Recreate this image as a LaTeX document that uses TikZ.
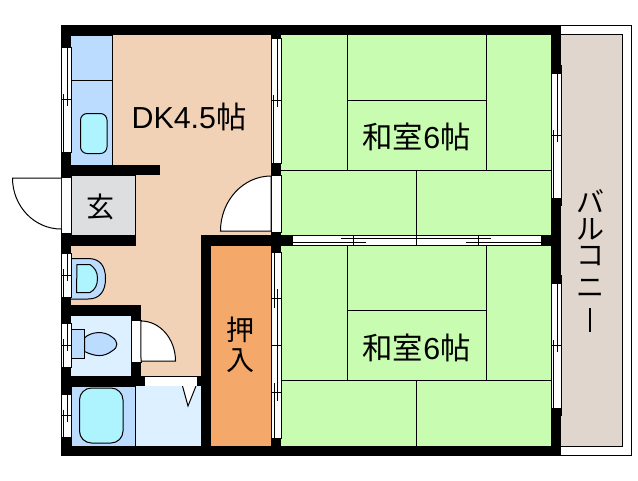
\documentclass[tikz,border=0pt]{standalone}
\usepackage{fontspec}
\setmainfont{Liberation Sans}
\newfontfamily\cjk{Noto Sans CJK JP}
\definecolor{dkcol}{HTML}{F2D2B6}
\definecolor{tatamicol}{HTML}{C8FCB0}
\definecolor{closetcol}{HTML}{F4A96B}
\definecolor{balconycol}{HTML}{E0D6CD}
\definecolor{genkancol}{HTML}{DCDEE0}
\definecolor{wetcol}{HTML}{BBDCFF}
\definecolor{palecol}{HTML}{DCF0FF}
\definecolor{watercol}{HTML}{AEF4FF}
\tikzset{
  ln/.style={line width=0.75pt},
  wall/.style={fill=black},
  opening/.style={ln,fill=white,draw=black},
  label/.style={inner sep=0pt,font=\fontsize{21}{21}\selectfont},
  roomlabel/.style={inner sep=0pt,font=\fontsize{22.8}{23}\selectfont},
}
% sliding window in a vertical wall: left x, top y, bottom y
\newcommand{\slidewin}[3]{
  \draw[opening] (#1,#2) rectangle (#1+10,#3);
  \draw[ln] (#1+6,#2) -- (#1+6,{(#2+#3)/2+6});
  \draw[ln] (#1+2,{(#2+#3)/2-6}) -- (#1+2,#3);
  \draw[ln] (#1,{(#2+#3)/2}) -- (#1+10,{(#2+#3)/2});
}
\begin{document}
\begin{tikzpicture}[x=0.75pt,y=-0.75pt]
\useasboundingbox (0,0) rectangle (638,480);
\fill[white] (0,0) rectangle (638,480);
% balcony
\draw[ln] (561,25.5) -- (631.5,25.5) -- (631.5,455.5) -- (561,455.5);
\draw[ln,fill=balconycol] (561,34.5) -- (622,34.5) -- (622,446.5) -- (561,446.5);
% floors
\fill[dkcol] (71,35) rectangle (271,446);
\fill[tatamicol] (281,35) rectangle (551,446);
\fill[closetcol] (211,246) rectangle (271,446);
\draw[ln,fill=wetcol] (71,35) -- (112.5,35) -- (112.5,165) -- (71,165);
\draw[ln] (71,80.5) -- (112.5,80.5);
\draw[ln,fill=watercol,rounded corners=5pt] (80.5,113.5) rectangle (107,153.5);
\draw[ln,fill=genkancol] (71,175) rectangle (135.5,235);
\fill[palecol] (71,316) rectangle (131,376);
\fill[palecol] (135.5,386) rectangle (201,446);
\draw[ln,fill=wetcol] (71,386) rectangle (135.5,446);
\draw[ln,fill=watercol,rounded corners=9pt] (79.5,388) rectangle (123,443);
\draw[ln,fill=white] (182.5,386) -- (188,406) -- (196,386);
% wash basin
\draw[ln,fill=wetcol] (71,258.5) -- (88,258.5) .. controls (100,258.5) and (105.5,266) .. (105.5,278.5) .. controls (105.5,291) and (100,299) .. (88,299) -- (71,299);
\draw[ln,fill=watercol] (77,264.5) -- (90,264.5) .. controls (95,268) and (97.5,272) .. (97.5,278.5) .. controls (97.5,285) and (95,290) .. (90,292.5) -- (76.5,292.5) -- cycle;
% toilet
\draw[ln,fill=wetcol] (71,329.5) -- (84.5,329.5) -- (84.5,358.5) -- (71,358.5);
\draw[ln,fill=wetcol] (84.5,338) .. controls (90,332) and (104,330) .. (112,337) .. controls (118,341) and (119,347) .. (112,351) .. controls (104,357) and (96,357) .. (84.5,351.5) -- cycle;
% tatami lines
\draw[ln] (347,35) -- (347,170.5);
\draw[ln] (486.5,35) -- (486.5,170.5);
\draw[ln] (347,100.5) -- (486.5,100.5);
\draw[ln] (281,170.5) -- (551,170.5);
\draw[ln] (416.5,170.5) -- (416.5,235);
\draw[ln] (347,246) -- (347,380.5);
\draw[ln] (486.5,246) -- (486.5,380.5);
\draw[ln] (347,310.5) -- (486.5,310.5);
\draw[ln] (281,380.5) -- (551,380.5);
\draw[ln] (416.5,380.5) -- (416.5,446);
% walls
\fill[wall] (61,25) rectangle (561,35);
\fill[wall] (61,446) rectangle (561,456);
\fill[wall] (61,25) rectangle (71,456);
\fill[wall] (71,165) rectangle (160,175);
\fill[wall] (71,235) rectangle (136,246);
\fill[wall] (71,305) rectangle (141,316);
\fill[wall] (131,305) rectangle (141,376);
\fill[wall] (71,376) rectangle (201,386);
\fill[wall] (201,235) rectangle (551,246);
\fill[wall] (201,235) rectangle (211,456);
\fill[wall] (271,25) rectangle (281,456);
\fill[wall] (551,25) rectangle (561,456);
\fill[wall] (551,65) rectangle (562,73);
\fill[wall] (551,198) rectangle (562,206);
\fill[wall] (551,275) rectangle (562,283);
\fill[wall] (551,408) rectangle (562,416);
% windows
\slidewin{61}{47}{152}
\slidewin{61}{253}{297}
\slidewin{61}{323}{367}
\slidewin{61}{394}{437}
\slidewin{271}{38}{163}
\slidewin{551.5}{73}{198}
\slidewin{551.5}{283}{408}
% closet side window
\draw[opening] (271,252) rectangle (281,438);
\draw[ln] (274,252) -- (274,308);
\draw[ln] (277,289) -- (277,401);
\draw[ln] (274,383) -- (274,438);
\draw[ln] (271,298) -- (281,298);
\draw[ln] (271,345) -- (281,345);
\draw[ln] (271,392) -- (281,392);
% sliding doors between the rooms
\draw[opening] (292,235.5) rectangle (541,245);
\draw[ln] (292,242) -- (366,242);
\draw[ln] (341,238.5) -- (491,238.5);
\draw[ln] (466,242) -- (541,242);
\draw[ln] (353.5,235.5) -- (353.5,245);
\draw[ln] (416.5,235.5) -- (416.5,245);
\draw[ln] (478.5,235.5) -- (478.5,245);
% doors
\draw[opening] (61,177.5) rectangle (71,233);
\draw[ln,fill=white] (61,178) -- (12.5,178) arc[start angle=180,end angle=270,x radius=36.4pt,y radius=38.25pt];
\draw[opening] (271,175.5) rectangle (281,232);
\draw[ln,fill=white] (271,231) -- (220.5,231) arc[start angle=180,end angle=90,x radius=37.9pt,y radius=41.25pt] -- cycle;
\draw[opening] (131,320.5) rectangle (141,362);
\draw[ln,fill=white] (141,361) -- (175.5,361) arc[start angle=0,end angle=90,x radius=25.9pt,y radius=30pt] -- cycle;
\fill[white] (145,376.5) rectangle (197,385.5);
% room names
\node[roomlabel] (dklabel) at (189,117) {DK4.5{\cjk 帖}};
\node[roomlabel] (washitsua) at (416.5,136.5) {{\cjk 和室}6{\cjk 帖}};
\node[roomlabel] (washitsub) at (416.5,347.5) {{\cjk 和室}6{\cjk 帖}};
\node[label] (genkan) at (100,207) {\cjk 玄};
\node[label] (oshi) at (240,330) {\cjk 押};
\node[label] (iri) at (240,361) {\cjk 入};
\node[label] (ba) at (590,201) {\cjk バ};
\node[label] (ru) at (590,229) {\cjk ル};
\node[label] (ko) at (590,256) {\cjk コ};
\node[label] (ni) at (590,288) {\cjk ニ};
\node[label] (bar) at (590,320) {\rule{1.4pt}{18pt}};
\end{tikzpicture}
\end{document}
